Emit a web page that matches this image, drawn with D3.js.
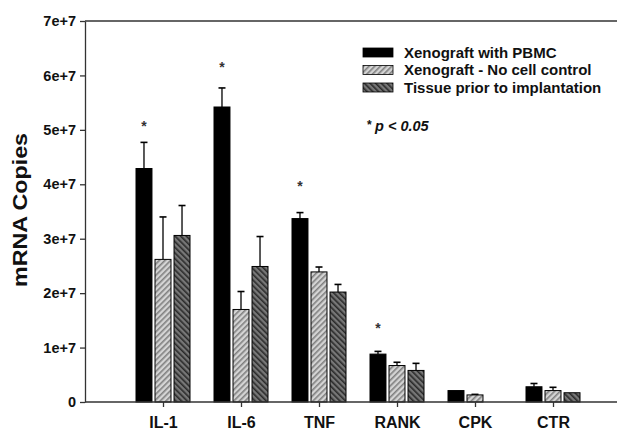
<!DOCTYPE html>
<html>
<head>
<meta charset="utf-8">
<script src="https://cdn.jsdelivr.net/npm/d3@7"></script>
<style>
body{margin:0;background:#fff}
text{font-family:"Liberation Sans",Arial,sans-serif}
</style>
</head>
<body>
<svg id="chart" width="617" height="432"></svg>
<script>
var genes=["IL-1","IL-6","TNF","RANK","CPK","CTR"]
var seriesNames=["Xenograft with PBMC","Xenograft - No cell control","Tissue prior to implantation"]
// means and upper error (mean + sem), mRNA copies
var pbmc=[4.29e7,5.42e7,3.37e7,0.88e7,0.21e7,0.28e7]
var pbmcErr=[4.77e7,5.77e7,3.48e7,0.93e7,0.21e7,0.34e7]
var noCell=[2.62e7,1.70e7,2.39e7,0.67e7,0.13e7,0.21e7]
var noCellErr=[3.40e7,2.03e7,2.48e7,0.73e7,0.14e7,0.27e7]
var tissue=[3.06e7,2.49e7,2.02e7,0.58e7,0,0.17e7]
var tissueErr=[3.61e7,3.04e7,2.16e7,0.71e7,0,0.17e7]
// significance star heights (null = none)
var stars=[5.1e7,6.2e7,4.0e7,1.4e7,null,null]
var yTicks=[0,1e7,2e7,3e7,4e7,5e7,6e7,7e7]

var svg=d3.select("#chart")
var mLeft=85,mRight=617,mTop=21,mBottom=402

// patterns
var defs=svg.append("defs")
var p1=defs.append("pattern").attr("id","hatchLight").attr("patternUnits","userSpaceOnUse")
  .attr("width",4).attr("height",4).attr("patternTransform","rotate(45)")
p1.append("rect").attr("width",4).attr("height",4).attr("fill","#d4d4d4")
p1.append("rect").attr("width",1.6).attr("height",4).attr("fill","#808080")
var p2=defs.append("pattern").attr("id","hatchDark").attr("patternUnits","userSpaceOnUse")
  .attr("width",4).attr("height",4).attr("patternTransform","rotate(-45)")
p2.append("rect").attr("width",4).attr("height",4).attr("fill","#777")
p2.append("rect").attr("width",1.6).attr("height",4).attr("fill","#2a2a2a")
var fills=["#000","url(#hatchLight)","url(#hatchDark)"]

var y=d3.scaleLinear().domain([0,7e7]).range([mBottom,mTop])
var x=d3.scalePoint().domain(genes).range([163,553])
var xs=d3.scaleBand().domain(seriesNames).range([-27,27]).paddingInner(0.16)

var series=[
  {name:seriesNames[0],vals:pbmc,err:pbmcErr},
  {name:seriesNames[1],vals:noCell,err:noCellErr},
  {name:seriesNames[2],vals:tissue,err:tissueErr}
]

var rows=[]
series.forEach(function(s,si){
  genes.forEach(function(g,gi){
    rows.push({g:g,s:s.name,si:si,v:s.vals[gi],e:s.err[gi]})
  })
})

// error bars (upper only)
var eb=svg.append("g").attr("stroke","#000").attr("stroke-width",1.3)
rows.filter(function(d){return d.e>d.v}).forEach(function(d){
  var cx=x(d.g)+xs(d.s)+xs.bandwidth()/2
  eb.append("line").attr("x1",cx).attr("x2",cx).attr("y1",y(d.v)).attr("y2",y(d.e))
  eb.append("line").attr("x1",cx-3.5).attr("x2",cx+3.5).attr("y1",y(d.e)).attr("y2",y(d.e)).attr("stroke-width",1.6)
})

svg.append("g").selectAll("rect")
  .data(rows.filter(function(d){return d.v>0}))
  .enter().append("rect")
  .attr("x",function(d){return x(d.g)+xs(d.s)})
  .attr("width",xs.bandwidth())
  .attr("y",function(d){return y(d.v)})
  .attr("height",function(d){return mBottom-y(d.v)})
  .attr("fill",function(d){return fills[d.si]})
  .attr("stroke","#000").attr("stroke-width",1)

// stars
svg.append("g").selectAll("text")
  .data(genes.map(function(g,i){return {g:g,v:stars[i]}}).filter(function(d){return d.v!=null}))
  .enter().append("text")
  .attr("x",function(d){return x(d.g)+xs(seriesNames[0])+xs.bandwidth()/2})
  .attr("y",function(d){return y(d.v)+7})
  .attr("text-anchor","middle").attr("font-size",14).attr("font-weight","bold").attr("fill","#333")
  .text("*")

// y axis
var yAxis=d3.axisLeft(y).tickValues(yTicks).tickSize(5).tickSizeOuter(0)
  .tickFormat(function(d){return d===0?"0":(d/1e7)+"e+7"})
var ya=svg.append("g").attr("transform","translate("+mLeft+",0)").call(yAxis)
ya.selectAll("text").attr("font-size",14.5).attr("font-weight","bold").attr("fill","#111").attr("x",-9)
ya.selectAll("line,path").attr("stroke","#333").attr("stroke-width",1.3)

// x axis
var xAxis=d3.axisBottom(x).tickSize(5).tickSizeOuter(0).tickPadding(10)
var xa=svg.append("g").attr("transform","translate(0,"+mBottom+")").call(xAxis)
xa.select("path").remove()
xa.selectAll("line").attr("stroke","#333").attr("stroke-width",1.3)
xa.selectAll("text").attr("font-size",16).attr("font-weight","bold").attr("fill","#111")
svg.append("line").attr("x1",mLeft).attr("x2",mRight).attr("y1",mBottom).attr("y2",mBottom).attr("stroke","#333").attr("stroke-width",1.3)
svg.append("line").attr("x1",mLeft).attr("x2",mRight).attr("y1",mTop).attr("y2",mTop).attr("stroke","#333").attr("stroke-width",1.3)

// y label
svg.append("text").attr("transform","translate(27,210) rotate(-90)")
  .attr("text-anchor","middle").attr("font-size",21).attr("font-weight","bold").attr("fill","#111")
  .attr("textLength",154).attr("lengthAdjust","spacingAndGlyphs")
  .text("mRNA Copies")

// legend
var lg=svg.append("g").attr("transform","translate(363,48)")
seriesNames.forEach(function(n,i){
  var r=lg.append("g").attr("transform","translate(0,"+(i*17.5)+")")
  r.append("rect").attr("width",30).attr("height",9).attr("fill",fills[i]).attr("stroke","#000").attr("stroke-width",0.8)
  r.append("text").attr("x",41).attr("y",9.5).attr("font-size",15).attr("font-weight","bold").attr("fill","#111").text(n)
})
var pt=svg.append("text").attr("x",367).attr("y",131).attr("font-size",14.5).attr("font-weight","bold").attr("fill","#111")
pt.append("tspan").attr("font-size",12).attr("dy",-2).text("* ")
pt.append("tspan").attr("dy",2).attr("font-style","italic").text("p < 0.05")
</script>
</body>
</html>
